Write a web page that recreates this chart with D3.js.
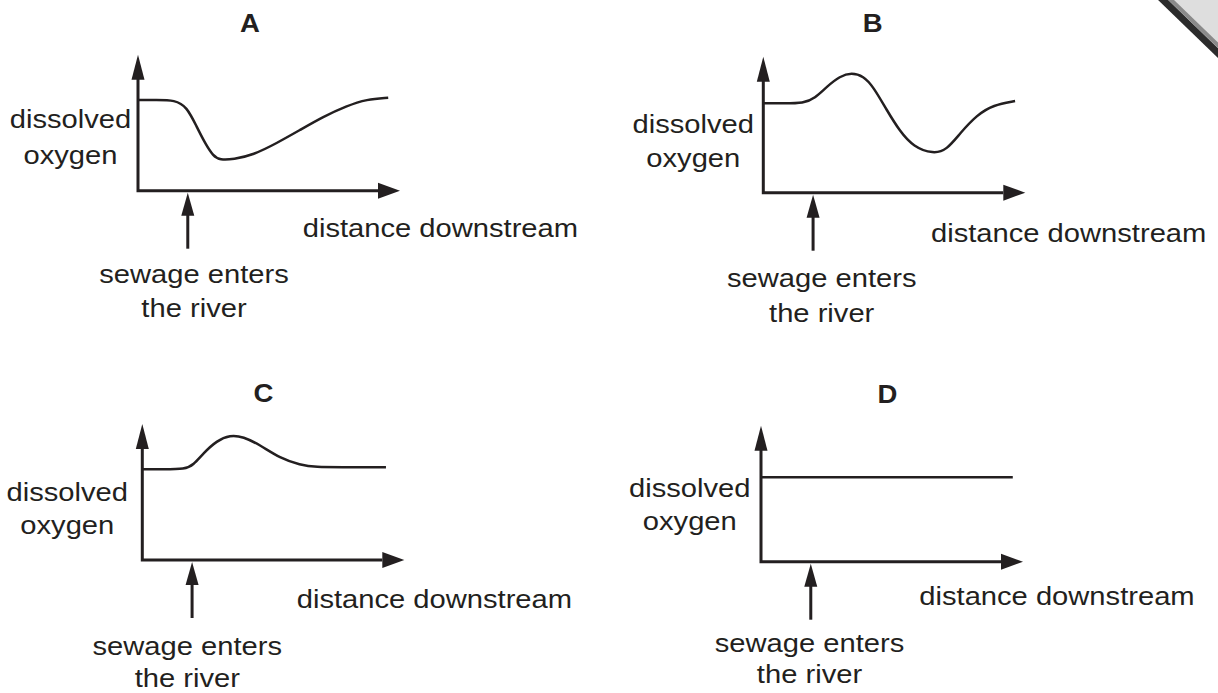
<!DOCTYPE html>
<html>
<head>
<meta charset="utf-8">
<script src="https://cdn.jsdelivr.net/npm/d3@7"></script>
<style>
  body { margin: 0; background: #fff; }
  text { font-family: "Liberation Sans", Arial, Helvetica, sans-serif; fill: #231f20; }
</style>
</head>
<body>
<div id="wrapper"></div>
<script>
// data: distance downstream (0-100) vs dissolved oxygen (0-100)
const panelNames = ["A", "B", "C", "D"]
const curveA = [[0, 66.7], [7, 66.7], [14.1, 66.7], [18.6, 61.8], [22.4, 47.1], [25.6, 34.9], [28.7, 25.5], [31.3, 22.6],
  [36.4, 23.1], [44, 26.3], [52.9, 34.9], [61.8, 44.6], [70.7, 54.4], [79.6, 62.3], [87.3, 67.2], [95.5, 68.4]]
const curveB = [[0, 65.7], [8, 65.7], [15.3, 65.7], [19.7, 69.4], [24.2, 77.9], [29.3, 85.8], [33.7, 88.2], [38.2, 85.8],
  [42, 77.9], [47.1, 60.8], [52.2, 44.9], [57.3, 33.8], [64.9, 28.5], [70, 31.4], [75.1, 43.7], [81.5, 57.1],
  [87.8, 64.5], [96.1, 67.4]]
const curveC = [[0, 66.7], [8, 66.7], [16.3, 66.7], [19.5, 69.9], [23.3, 78.5], [28.4, 87.7], [33.5, 91.9], [38.5, 90.7],
  [44.9, 84.6], [52.6, 74.8], [60.2, 69.9], [66.5, 68.2], [75, 68.2], [93, 68.2]]
const curveD = [[0, 62.1], [96.1, 62.1]]
const curves = [curveA, curveB, curveC, curveD]
const sewageDistance = 19
const yLabel = ["dissolved", "oxygen"]
const xLabel = "distance downstream"
const sewageLabel = ["sewage enters", "the river"]

// layout of each panel (origin of axes and label offsets)
const layout = [
  {x0: 138, y0: 190.7, title: [112, -159], yl: [-67.5, -62.4, -26.7], xl: [164.7, 46], sl: [56, 92, 126]},
  {x0: 763.3, y0: 192.7, title: [109.4, -160.7], yl: [-70, -59.4, -26], xl: [167.7, 49], sl: [58.4, 94.3, 129]},
  {x0: 142.3, y0: 560, title: [121, -157.7], yl: [-75, -59.3, -25.7], xl: [154.4, 48.3], sl: [45, 95, 126.7]},
  {x0: 761, y0: 561.7, title: [126.3, -158.4], yl: [-71.2, -65, -31.7], xl: [158.3, 43.3], sl: [48.5, 90, 121.6]}
]

const width = 1218
const height = 693
const ink = "#231f20"
const fontSize = 26.5
const stretch = 1.1   // the scan is a bit wider than tall

const svg = d3.select("#wrapper")
  .append("svg")
    .attr("width", width)
    .attr("height", height)

// scales (same size for every panel)
const xScale = d3.scaleLinear().domain([0, 100]).range([0, 262])
const yScale = d3.scaleLinear().domain([0, 100]).range([0, -136])

const line = d3.line()
  .x(d => xScale(d[0]))
  .y(d => yScale(d[1]))
  .curve(d3.curveBasis)

function label(g, x, y, str, anchor, size, bold) {
  g.append("text")
    .attr("transform", `translate(${x},${y}) scale(${stretch},1)`)
    .attr("text-anchor", anchor)
    .attr("font-size", size)
    .attr("font-weight", bold ? "bold" : null)
    .text(str)
}

panelNames.forEach((name, i) => {
  const L = layout[i]
  const g = svg.append("g")
    .attr("transform", `translate(${L.x0},${L.y0})`)

  const xEnd = xScale.range()[1]
  const yEnd = yScale.range()[1]

  // axes
  g.append("path")
    .attr("d", `M0,${yEnd + 24}V0H${xEnd - 22}`)
    .attr("fill", "none")
    .attr("stroke", ink)
    .attr("stroke-width", 3)
  g.append("path")
    .attr("d", `M0,${yEnd}L-6.5,${yEnd + 25}L6.5,${yEnd + 25}Z`)
    .attr("fill", ink)
  g.append("path")
    .attr("d", `M${xEnd},0L${xEnd - 22},-8L${xEnd - 22},8Z`)
    .attr("fill", ink)

  // curve
  g.append("path")
    .datum(curves[i])
    .attr("d", line)
    .attr("fill", "none")
    .attr("stroke", ink)
    .attr("stroke-width", 2.5)

  // sewage arrow
  const sx = xScale(sewageDistance)
  g.append("line")
    .attr("x1", sx).attr("x2", sx)
    .attr("y1", 20).attr("y2", 58)
    .attr("stroke", ink)
    .attr("stroke-width", 3)
  g.append("path")
    .attr("d", `M${sx},2L${sx - 6.5},${25}L${sx + 6.5},${25}Z`)
    .attr("fill", ink)

  // texts
  label(g, L.title[0], L.title[1], name, "middle", 25, true)
  yLabel.forEach((t, j) => label(g, L.yl[0], L.yl[j + 1], t, "middle", fontSize))
  label(g, L.xl[0], L.xl[1], xLabel, "start", fontSize)
  sewageLabel.forEach((t, j) => label(g, L.sl[0], L.sl[j + 1], t, "middle", fontSize))
})

// page corner in the top right
svg.append("path")
  .attr("d", "M1163,0L1218,0L1218,54Z")
  .attr("fill", "#dedede")
svg.append("line")
  .attr("x1", 1160).attr("y1", -3)
  .attr("x2", 1221).attr("y2", 56)
  .attr("stroke", "#2b2b2b")
  .attr("stroke-width", 7)
svg.append("line")
  .attr("x1", 1167).attr("y1", -4)
  .attr("x2", 1224).attr("y2", 51)
  .attr("stroke", "#8a8a8a")
  .attr("stroke-width", 4)
</script>
</body>
</html>
